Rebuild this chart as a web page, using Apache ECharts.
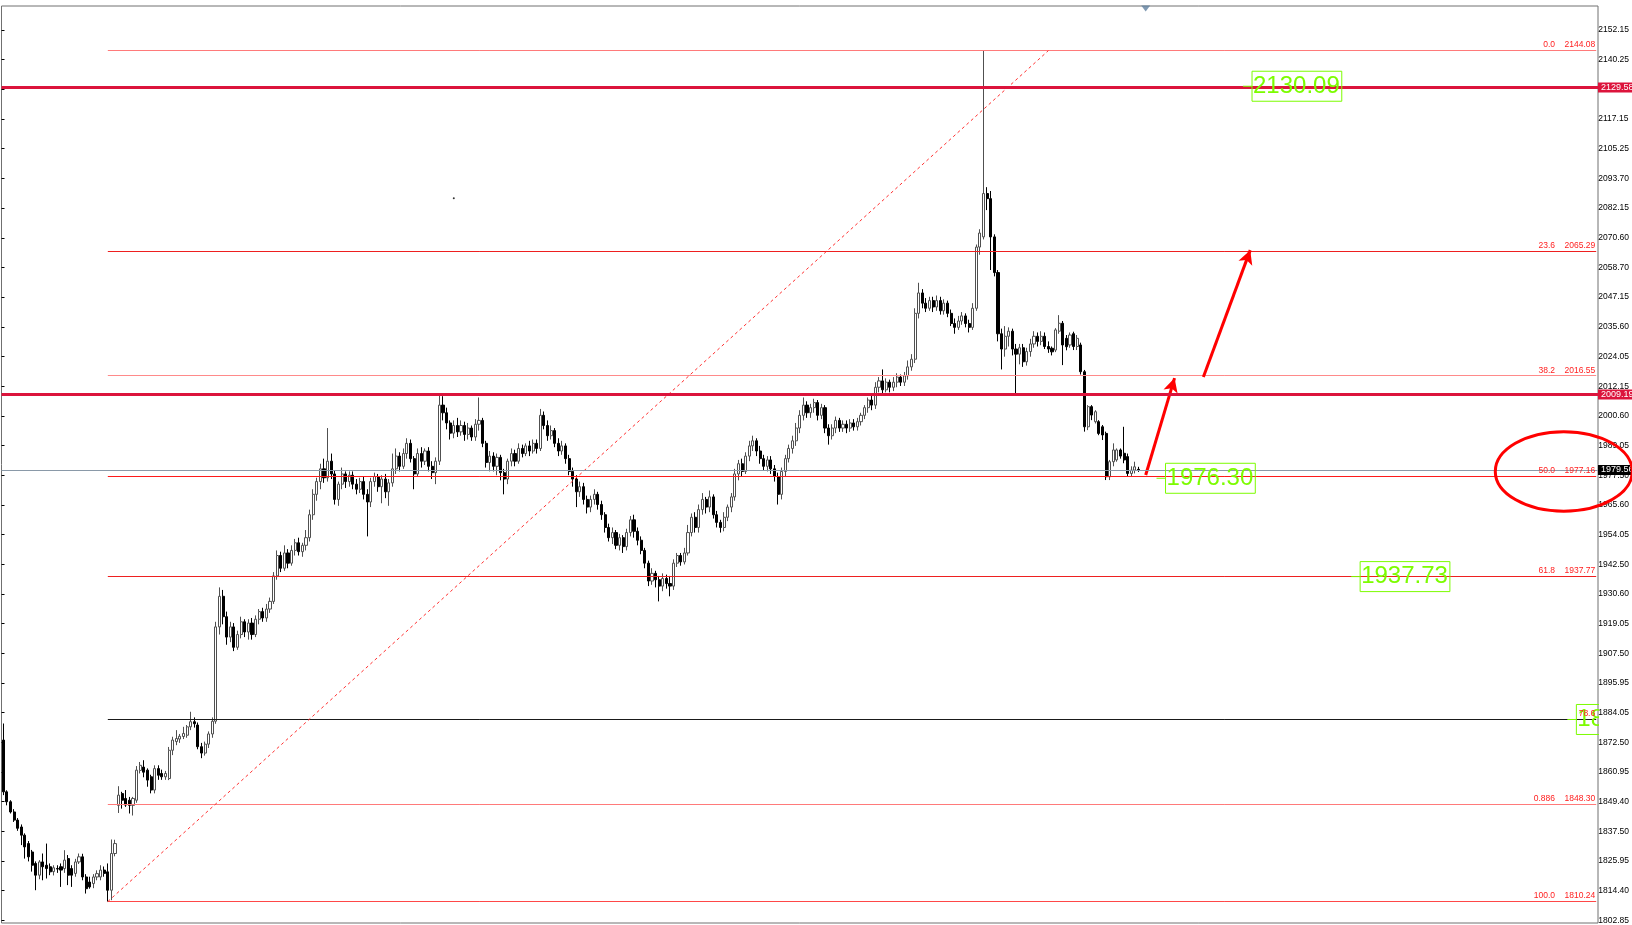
<!DOCTYPE html>
<html>
<head>
<meta charset="utf-8">
<title>XAUUSD H4</title>
<script src="https://cdn.jsdelivr.net/npm/echarts@6.0.0/dist/echarts.min.js"></script>
<style>
    html, body { margin: 0; padding: 0; background: #fff; }
    #chart { width: 1632px; height: 925px; }
</style>
</head>
<body>
<div id="chart"></div>
<script>
    // H4 candles: [open, close, low, high]
    const candles = [
        [1873.6,1853.3,1852.0,1880.1],[1853.3,1849.4,1848.0,1853.9],[1849.4,1845.4,1844.8,1850.0],[1845.4,1842.2,1841.5,1846.5],
        [1842.2,1839.0,1838.0,1843.0],[1839.5,1836.3,1832.4,1840.5],[1836.3,1831.7,1827.1,1837.0],[1833.0,1827.8,1826.0,1834.0],
        [1829.7,1824.5,1822.0,1830.5],[1825.2,1820.6,1814.7,1826.0],[1820.6,1825.8,1819.0,1826.5],[1825.8,1823.9,1818.6,1829.1],
        [1824.5,1823.2,1819.3,1833.0],[1823.9,1821.9,1820.6,1825.2],[1822.0,1823.5,1820.5,1824.5],[1823.2,1823.0,1821.5,1824.5],
        [1823.9,1822.6,1816.0,1825.2],[1823.2,1826.5,1821.5,1830.4],[1827.1,1820.6,1816.7,1828.5],[1823.2,1820.6,1816.0,1824.5],
        [1821.3,1825.8,1820.0,1827.0],[1825.8,1827.8,1825.0,1829.1],[1827.8,1819.9,1818.6,1829.0],[1819.9,1815.3,1813.4,1821.0],
        [1817.9,1816.0,1815.3,1820.0],[1817.3,1819.9,1815.5,1821.0],[1819.9,1821.2,1818.6,1822.5],[1819.9,1822.6,1818.6,1824.5],
        [1822.6,1821.3,1820.0,1824.0],[1821.9,1814.7,1810.24,1825.2],[1814.7,1829.1,1810.8,1834.6],[1829.1,1833.0,1828.0,1834.5],
        [1848.0,1852.0,1845.0,1855.5],[1852.6,1850.0,1846.7,1853.3],[1850.7,1848.1,1847.4,1854.0],[1850.0,1848.0,1844.8,1851.3],
        [1848.0,1850.7,1844.0,1851.3],[1850.0,1861.8,1849.0,1863.4],[1861.7,1863.7,1860.5,1865.0],[1863.0,1861.0,1859.0,1865.7],
        [1861.8,1857.9,1855.3,1862.5],[1859.2,1854.0,1852.7,1860.0],[1854.0,1862.4,1852.7,1863.7],[1862.4,1859.8,1858.0,1863.7],
        [1860.5,1859.2,1858.0,1862.0],[1859.2,1860.5,1858.0,1861.5],[1858.5,1869.6,1857.9,1870.9],[1869.6,1873.6,1867.7,1874.9],
        [1873.0,1874.2,1871.6,1877.5],[1874.0,1875.1,1872.5,1876.0],[1875.0,1876.2,1874.0,1878.8],[1875.5,1878.8,1874.5,1879.5],
        [1878.8,1880.8,1877.5,1884.7],[1880.8,1880.0,1878.5,1882.5],[1879.5,1871.0,1870.0,1880.5],[1871.0,1868.5,1866.5,1872.5],
        [1868.5,1872.0,1867.5,1873.0],[1872.0,1876.0,1870.5,1877.0],[1876.0,1881.0,1874.5,1882.5],[1881.0,1918.0,1880.0,1920.0],
        [1918.0,1930.0,1915.0,1933.5],[1930.0,1922.0,1919.0,1932.5],[1922.0,1914.0,1911.0,1924.0],[1914.0,1918.0,1912.0,1920.0],
        [1918.0,1910.0,1908.5,1919.5],[1910.0,1915.0,1909.0,1916.5],[1915.0,1920.0,1913.5,1922.0],[1920.0,1916.0,1914.0,1921.0],
        [1916.0,1919.5,1913.0,1921.0],[1919.5,1915.0,1913.0,1921.5],[1915.0,1921.0,1914.0,1922.5],[1921.0,1924.0,1919.0,1925.0],
        [1924.0,1921.5,1920.0,1925.5],[1921.5,1925.0,1920.0,1927.0],[1925.0,1928.0,1923.5,1929.5],[1928.0,1938.0,1927.0,1939.5],
        [1938.0,1946.0,1936.5,1948.0],[1946.0,1941.0,1939.5,1947.5],[1941.0,1947.0,1940.0,1950.0],[1947.0,1943.0,1941.0,1948.5],
        [1943.0,1948.0,1942.0,1950.0],[1948.0,1951.0,1946.0,1952.5],[1951.0,1947.5,1946.0,1953.0],[1947.5,1950.0,1945.5,1951.0],
        [1950.0,1953.0,1948.0,1956.0],[1953.0,1962.0,1951.5,1964.0],[1962.0,1970.0,1960.0,1972.0],[1970.0,1975.0,1967.5,1976.5],
        [1975.0,1980.0,1972.0,1982.0],[1980.0,1976.5,1974.5,1984.0],[1976.5,1983.0,1975.0,1996.0],[1983.0,1978.0,1976.0,1986.0],
        [1978.0,1968.0,1966.0,1979.5],[1968.0,1974.0,1965.5,1975.0],[1974.0,1978.0,1972.0,1980.5],[1978.0,1975.0,1972.5,1979.0],
        [1975.0,1977.5,1973.0,1979.0],[1977.5,1974.0,1972.0,1979.0],[1974.0,1972.0,1970.0,1976.0],[1972.0,1975.0,1970.5,1976.5],
        [1975.0,1970.0,1968.0,1977.0],[1970.0,1967.0,1953.5,1972.0],[1967.0,1975.0,1965.0,1976.5],[1975.0,1977.0,1973.0,1978.5],
        [1977.0,1973.0,1971.0,1978.0],[1973.0,1976.0,1966.5,1977.5],[1976.0,1971.0,1968.5,1978.0],[1971.0,1974.5,1965.5,1976.0],
        [1974.5,1980.0,1973.0,1986.0],[1980.0,1985.0,1978.0,1988.0],[1985.0,1981.0,1979.0,1986.5],[1981.0,1986.0,1980.0,1988.0],
        [1986.0,1990.0,1984.0,1992.0],[1990.0,1984.0,1982.5,1991.5],[1984.0,1978.0,1972.0,1985.0],[1978.0,1986.0,1977.0,1988.0],
        [1986.0,1983.0,1980.5,1988.5],[1983.0,1987.0,1981.5,1988.0],[1987.0,1981.0,1979.0,1988.5],[1981.0,1978.5,1976.0,1983.0],
        [1978.5,1983.0,1974.0,1984.5],[1983.0,2005.0,1981.5,2009.0],[2005.0,2002.0,1999.0,2008.5],[2002.0,1998.0,1995.5,2004.0],
        [1998.0,1994.0,1991.5,1999.0],[1994.0,1997.0,1992.0,1999.0],[1997.0,1994.5,1992.5,2000.0],[1994.5,1997.0,1993.0,1999.0],
        [1997.0,1993.5,1991.0,1998.5],[1993.5,1996.0,1991.5,1998.0],[1996.0,1992.5,1991.0,1997.0],[1992.5,1997.5,1991.0,1999.5],
        [1997.5,1999.0,1995.0,2008.0],[1999.0,1990.0,1988.5,2000.0],[1990.0,1982.5,1980.5,1991.0],[1982.5,1985.0,1979.0,1987.0],
        [1985.0,1981.0,1979.0,1986.5],[1981.0,1984.5,1977.5,1986.0],[1984.5,1978.5,1975.5,1985.5],[1978.5,1976.0,1970.0,1980.0],
        [1976.0,1983.0,1974.0,1984.0],[1983.0,1986.0,1981.0,1988.0],[1986.0,1983.0,1981.0,1987.5],[1983.0,1988.0,1982.0,1990.0],
        [1988.0,1986.0,1984.5,1989.5],[1986.0,1989.0,1985.0,1990.0],[1989.0,1987.0,1985.0,1991.0],[1987.0,1990.0,1986.0,1991.5],
        [1990.0,1988.0,1986.0,1991.5],[1988.0,2001.0,1987.0,2003.5],[2001.0,1997.0,1995.5,2002.5],[1997.0,1993.0,1991.0,1999.0],
        [1993.0,1995.0,1991.5,1997.0],[1995.0,1990.0,1988.5,1996.0],[1990.0,1987.0,1985.0,1992.0],[1987.0,1989.0,1985.5,1991.0],
        [1989.0,1984.0,1982.0,1990.0],[1984.0,1979.0,1977.5,1985.5],[1979.0,1976.0,1973.0,1980.5],[1976.0,1971.0,1965.0,1977.5],
        [1971.0,1973.0,1969.0,1975.0],[1973.0,1968.0,1966.0,1974.5],[1968.0,1965.0,1962.5,1969.5],[1965.0,1968.0,1963.0,1969.5],
        [1968.0,1970.0,1966.0,1972.0],[1970.0,1966.0,1964.0,1971.0],[1966.0,1962.0,1960.0,1967.5],[1962.0,1957.0,1955.0,1963.0],
        [1957.0,1953.0,1951.5,1958.5],[1953.0,1955.0,1950.5,1957.0],[1955.0,1950.0,1948.5,1956.0],[1950.0,1953.0,1948.0,1954.5],
        [1953.0,1949.5,1947.0,1954.0],[1949.5,1955.0,1948.0,1956.5],[1955.0,1960.0,1953.5,1961.5],[1960.0,1955.5,1953.0,1962.0],
        [1955.5,1952.0,1950.0,1957.0],[1952.0,1948.0,1946.5,1953.5],[1948.0,1943.0,1941.0,1949.0],[1943.0,1936.0,1934.0,1944.0],
        [1936.0,1939.0,1934.5,1941.0],[1939.0,1936.5,1933.5,1940.0],[1936.5,1934.0,1928.0,1938.0],[1934.0,1937.0,1932.0,1939.0],
        [1937.0,1935.0,1933.0,1938.5],[1935.0,1934.0,1930.0,1938.0],[1934.0,1943.0,1932.5,1944.5],[1943.0,1946.0,1941.5,1947.0],
        [1946.0,1943.5,1942.0,1947.0],[1943.5,1947.0,1942.5,1949.0],[1947.0,1955.0,1946.0,1958.0],[1955.0,1961.0,1953.5,1962.5],
        [1961.0,1957.0,1955.0,1963.0],[1957.0,1964.0,1955.0,1966.0],[1964.0,1968.0,1962.0,1970.5],[1968.0,1965.0,1962.5,1969.0],
        [1965.0,1969.0,1963.0,1971.5],[1969.0,1962.0,1960.5,1970.0],[1962.0,1959.0,1957.0,1963.5],[1959.0,1957.0,1955.0,1960.0],
        [1957.0,1961.0,1955.5,1963.0],[1961.0,1965.0,1959.5,1966.0],[1965.0,1969.0,1963.0,1970.5],[1969.0,1978.0,1967.5,1980.0],
        [1978.0,1982.0,1975.5,1983.5],[1982.0,1979.0,1977.0,1984.0],[1979.0,1985.0,1978.0,1986.5],[1985.0,1989.0,1983.0,1991.0],
        [1989.0,1991.0,1987.0,1993.0],[1991.0,1987.0,1985.0,1992.0],[1987.0,1984.0,1982.0,1989.0],[1984.0,1981.0,1979.5,1985.5],
        [1981.0,1983.5,1979.0,1985.0],[1983.5,1980.0,1978.0,1985.0],[1980.0,1977.0,1975.0,1981.5],[1977.0,1970.0,1966.0,1978.5],
        [1970.0,1979.0,1968.0,1980.5],[1979.0,1984.0,1977.0,1985.5],[1984.0,1988.0,1982.5,1989.5],[1988.0,1991.0,1986.0,1993.0],
        [1991.0,1996.0,1989.0,1998.0],[1996.0,2001.0,1994.0,2003.0],[2001.0,2005.0,1999.0,2008.0],[2005.0,2002.0,2000.0,2006.5],
        [2002.0,2004.0,2000.0,2005.5],[2004.0,2006.0,2002.0,2007.5],[2006.0,2001.0,1999.0,2007.0],[2001.0,2004.0,1999.5,2005.5],
        [2004.0,1996.0,1994.0,2005.0],[1996.0,1993.0,1989.5,1997.5],[1993.0,1996.0,1991.5,1997.5],[1996.0,1999.0,1994.0,2000.5],
        [1999.0,1996.0,1994.5,2000.0],[1996.0,1997.5,1994.5,1999.0],[1997.5,1996.0,1994.0,1999.0],[1996.0,1998.0,1994.5,1999.5],
        [1998.0,1996.5,1995.0,1999.5],[1996.5,1998.5,1995.0,2000.0],[1998.5,2001.0,1997.0,2002.0],[2001.0,2004.0,1999.5,2005.0],
        [2004.0,2007.0,2002.0,2008.0],[2007.0,2005.0,2003.0,2009.0],[2005.0,2012.0,2003.5,2014.0],[2012.0,2014.5,2010.0,2016.0],
        [2014.5,2011.0,2009.0,2019.0],[2011.0,2014.0,2010.0,2015.5],[2014.0,2012.0,2010.0,2015.0],[2012.0,2014.0,2010.5,2016.0],
        [2014.0,2016.0,2012.0,2017.5],[2016.0,2014.0,2012.5,2017.0],[2014.0,2016.5,2012.5,2018.0],[2016.5,2020.0,2015.0,2022.5],
        [2020.0,2023.0,2018.5,2025.0],[2023.0,2041.0,2021.5,2043.0],[2041.0,2049.0,2039.0,2053.0],[2049.0,2045.0,2043.0,2050.5],
        [2045.0,2043.0,2041.5,2047.0],[2043.0,2046.0,2042.0,2047.5],[2046.0,2043.5,2041.5,2047.5],[2043.5,2046.0,2042.0,2048.0],
        [2046.0,2042.0,2040.5,2047.5],[2042.0,2045.0,2040.5,2046.5],[2045.0,2041.0,2039.5,2046.0],[2041.0,2037.0,2036.0,2042.5],
        [2037.0,2035.5,2033.0,2039.0],[2035.5,2038.0,2034.5,2040.0],[2038.0,2040.0,2036.5,2041.5],[2040.0,2037.0,2035.5,2041.0],
        [2037.0,2035.5,2033.5,2038.5],[2035.5,2043.0,2034.5,2045.0],[2043.0,2067.0,2042.0,2068.0],[2067.0,2072.5,2064.0,2074.0],
        [2071.0,2088.0,2070.0,2144.08],[2088.0,2086.0,2081.5,2090.5],[2086.0,2071.0,2058.0,2089.0],[2071.0,2057.0,2055.5,2072.0],
        [2057.0,2033.0,2030.0,2058.0],[2033.0,2027.0,2019.0,2035.0],[2027.0,2032.0,2024.0,2036.0],[2032.0,2034.0,2028.0,2035.5],
        [2034.0,2027.0,2024.5,2035.0],[2027.0,2025.0,2009.5,2029.0],[2025.0,2027.5,2021.0,2029.0],[2027.5,2022.0,2020.0,2029.0],
        [2022.0,2026.0,2020.5,2027.5],[2026.0,2029.0,2024.0,2031.0],[2029.0,2032.0,2027.5,2034.0],[2032.0,2030.0,2028.0,2033.5],
        [2030.0,2032.0,2028.5,2034.0],[2032.0,2028.0,2027.0,2033.5],[2028.0,2027.0,2025.5,2030.0],[2027.3,2025.9,2024.5,2028.0],
        [2026.6,2034.5,2025.8,2035.2],[2034.0,2037.1,2033.0,2040.3],[2037.1,2028.6,2020.7,2038.0],[2031.2,2027.9,2026.5,2032.5],
        [2028.6,2032.5,2027.5,2033.5],[2033.0,2028.0,2026.6,2033.8],[2028.0,2031.2,2026.6,2032.5],[2028.6,2018.1,2017.0,2029.5],
        [2018.1,1996.5,1994.6,2018.8],[1996.5,2004.4,1995.2,2005.0],[2004.4,2001.1,1999.1,2005.0],[1998.5,2002.4,1997.8,2003.0],
        [1998.5,1993.9,1993.2,1999.1],[1996.5,1993.3,1991.3,1997.2],[1993.9,1976.9,1975.6,1994.6],[1976.9,1982.8,1975.6,1983.5],
        [1982.8,1987.4,1981.0,1990.0],[1983.5,1987.4,1982.8,1988.0],[1987.4,1985.0,1984.0,1988.0],[1986.1,1983.5,1982.2,1996.5],
        [1984.8,1978.2,1977.0,1986.0],[1978.2,1979.5,1977.0,1981.0],[1979.5,1980.8,1978.2,1982.8],[1979.8,1979.56,1978.8,1980.8]
    ];

    // right price scale, bottom to top
    const priceTicks = ['1802.85', '1814.40', '1825.95', '1837.50', '1849.40', '1860.95', '1872.50', '1884.05',
        '1895.95', '1907.50', '1919.05', '1930.60', '1942.50', '1954.05', '1965.60', '1977.50', '1989.05',
        '2000.60', '2012.15', '2024.05', '2035.60', '2047.15', '2058.70', '2070.60', '2082.15', '2093.70',
        '2105.25', '2117.15', '2128.70', '2140.25', '2152.15'];

    // fibonacci retracement (drawn from the low bar to the right edge)
    const fibLevels = ['0.0', '23.6', '38.2', '50.0', '61.8', '78.6', '0.886', '100.0'];
    const fibPrices = [2144.08, 2065.29, 2016.55, 1977.16, 1937.77, 1881.68, 1848.30, 1810.24];
    const fibWithPrice = [true, true, true, true, true, false, true, true];
    const fibStartBar = 29;

    // horizontal lines over the whole chart + bid
    const levelPrices = [2129.58, 2009.19];
    const bidPrice = 1979.56;

    // green price labels: anchor bar, price, text
    const boxBars = [344, 320, 374, 434];
    const boxPrices = [2130.09, 1976.30, 1937.73, 1881.68];
    const boxTexts = ['2130.09', '1976.30', '1937.73', '1881.68'];

    // trend line and hand drawn arrows: [bar, price]
    const trendPoints = [[29, 1810.24], [290, 2144.08]];
    const arrowPoints = [
        [[317, 1977.6], [325, 2015.6]],
        [[333, 2016.0], [346, 2065.8]]
    ];

    // ellipse around the current price: centre bar, centre price, half width in bars, half height in price
    const ellipseCenter = [433, 1979.0];
    const ellipseHalfBars = 19;
    const ellipseHalfPrice = 15.6;

    // small chart marks: a stray dot and the chart shift marker
    const dotPoint = [125, 2086.2];
    const shiftPoint = [317, 2160.6];

    const totalBars = 443;
    const categories = [];
    for (let i = 0; i < totalBars; i++) categories.push(i);

    const fontName = '"Liberation Sans", Arial, sans-serif';
    const fibColors = ['#ff7a7a', '#ee1f1f', '#ff8a8a', '#ff1a1a', '#ee2020', '#1a1a1a', '#ff7a7a', '#ff4848'];

    const markLines = [];
    fibLevels.forEach(function (lv, k) {
        markLines.push([
            {
                coord: [fibStartBar, fibPrices[k]],
                lineStyle: {color: fibColors[k], width: 1, type: 'solid'},
                label: {
                    show: true,
                    position: 'insideEndTop',
                    distance: [1, 1],
                    formatter: fibWithPrice[k] ? lv + '    ' + fibPrices[k].toFixed(2) : lv,
                    color: '#ff2020',
                    fontSize: 8.5,
                    fontFamily: fontName
                }
            },
            {coord: [totalBars - 1, fibPrices[k]]}
        ]);
    });
    // dotted fibo base line
    markLines.push([
        {coord: trendPoints[0], lineStyle: {color: '#ff3030', width: 1, type: [3, 3]}, label: {show: false}},
        {coord: trendPoints[1]}
    ]);
    // arrows
    arrowPoints.forEach(function (a) {
        markLines.push([
            {coord: a[0], symbol: 'none', lineStyle: {color: '#ff0000', width: 3, type: 'solid'}, label: {show: false}},
            {coord: a[1], symbol: 'arrow', symbolSize: [11, 14]}
        ]);
    });
    // crimson levels with price tags on the scale
    levelPrices.forEach(function (p) {
        markLines.push({
            yAxis: p,
            lineStyle: {color: '#dc143c', width: 3, type: 'solid'},
            label: {
                show: true, position: 'end', distance: 0, formatter: p.toFixed(2),
                color: '#fff', backgroundColor: '#dc143c', padding: [1, 3, 0, 3],
                fontSize: 9, fontFamily: fontName
            }
        });
    });
    // bid line
    markLines.push({
        yAxis: bidPrice,
        lineStyle: {color: '#8a99a8', width: 1, type: 'solid'},
        label: {
            show: true, position: 'end', distance: 0, formatter: bidPrice.toFixed(2),
            color: '#fff', backgroundColor: '#000', padding: [1, 3, 0, 3],
            fontSize: 9, fontFamily: fontName
        }
    });

    const chart = echarts.init(document.getElementById('chart'));
    chart.setOption({
        animation: false,
        backgroundColor: '#fff',
        grid: [
            {left: 1.5, right: 34, top: 6, bottom: 2, show: true, borderColor: '#707070', borderWidth: 1, backgroundColor: '#fff'},
            {left: 1.5, right: 34, top: 30, bottom: 4.6}
        ],
        xAxis: [
            {type: 'category', gridIndex: 0, data: categories, boundaryGap: true, show: false},
            {type: 'value', gridIndex: 1, show: false}
        ],
        yAxis: [
            {type: 'value', gridIndex: 0, min: 1801.84, max: 2161.57, show: false, splitLine: {show: false}},
            {
                type: 'category', gridIndex: 1, position: 'right', data: priceTicks, boundaryGap: false,
                axisLine: {show: false},
                axisTick: {show: true, length: 3, lineStyle: {color: '#000'}},
                axisLabel: {show: true, interval: 0, margin: 4, fontSize: 8.5, color: '#000', fontFamily: fontName},
                splitLine: {show: false}
            }
        ],
        series: [
            {
                name: 'XAUUSD,H4',
                type: 'candlestick',
                xAxisIndex: 0,
                yAxisIndex: 0,
                data: candles,
                barWidth: 2.6,
                itemStyle: {
                    color: '#ffffff',
                    color0: '#000000',
                    borderColor: '#505050',
                    borderColor0: '#000000',
                    borderWidth: 1
                },
                markLine: {
                    silent: true,
                    symbol: ['none', 'none'],
                    animation: false,
                    data: markLines
                }
            },
            {
                // green price labels, clipped by the price scale
                type: 'custom',
                xAxisIndex: 0,
                yAxisIndex: 0,
                clip: true,
                silent: true,
                z: 5,
                data: boxBars.map((b, k) => [b, boxPrices[k]]),
                renderItem: function (params, api) {
                    const p = api.coord([api.value(0), api.value(1)]);
                    return {
                        type: 'group',
                        children: [
                            {type: 'line', shape: {x1: p[0], y1: p[1], x2: p[0] + 9, y2: p[1]}, style: {stroke: '#7cfc00', lineWidth: 1}},
                            {
                                type: 'text', x: p[0] + 9, y: p[1],
                                style: {
                                    text: boxTexts[params.dataIndex], fill: '#7cfc00',
                                    font: '24px ' + fontName, lineHeight: 26,
                                    align: 'left', verticalAlign: 'middle',
                                    borderColor: '#7cfc00', borderWidth: 1, padding: [2, 2, 2, 1]
                                }
                            }
                        ]
                    };
                }
            },
            {
                // hand drawn ellipse
                type: 'custom',
                xAxisIndex: 0,
                yAxisIndex: 0,
                clip: false,
                silent: true,
                z: 10,
                data: [ellipseCenter],
                renderItem: function (params, api) {
                    const c = api.coord([api.value(0), api.value(1)]);
                    const bw = api.size([1, 0])[0];
                    const ry = api.size([0, ellipseHalfPrice * 2])[1] / 2;
                    return {
                        type: 'ellipse',
                        shape: {cx: c[0], cy: c[1], rx: ellipseHalfBars * bw, ry: ry},
                        style: {fill: 'none', stroke: '#ff0000', lineWidth: 3}
                    };
                }
            },
            {
                type: 'scatter',
                xAxisIndex: 0,
                yAxisIndex: 0,
                silent: true,
                clip: false,
                symbolSize: 2,
                itemStyle: {color: '#000'},
                data: [dotPoint]
            },
            {
                type: 'scatter',
                xAxisIndex: 0,
                yAxisIndex: 0,
                silent: true,
                clip: false,
                symbol: 'triangle',
                symbolRotate: 180,
                symbolSize: [9, 6],
                itemStyle: {color: '#5f7f9f'},
                data: [shiftPoint]
            }
        ]
    });
</script>
</body>
</html>
